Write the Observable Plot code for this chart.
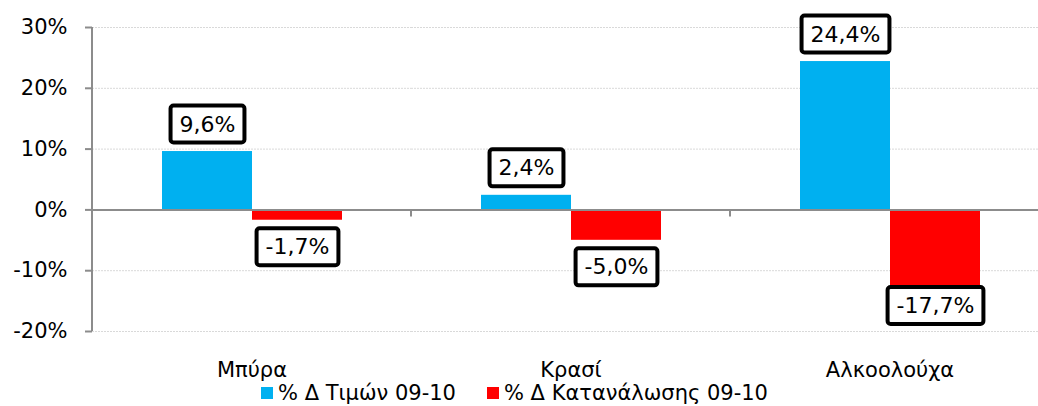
<!DOCTYPE html>
<html>
<head>
<meta charset="utf-8">
<script src="https://cdn.jsdelivr.net/npm/d3@7"></script>
<script src="https://cdn.jsdelivr.net/npm/@observablehq/plot@0.6"></script>
<style>
  html, body { margin: 0; padding: 0; background: #fff; overflow: hidden; }
  body { font-family: "DejaVu Sans", sans-serif; width: 1038px; height: 406px; }
  #chart svg { display: block; }
  #legend { display: flex; align-items: center; margin-left: 261px; height: 14px; font-size: 21px; line-height: 14px; color: #000; }
  .item { display: flex; align-items: center; margin-right: 31px; }
  .sw { width: 12px; height: 12px; margin-right: 5px; }
</style>
</head>
<body>
<div id="chart"></div>
<div id="legend"></div>
<script>
const categories = ["Μπύρα", "Κρασί", "Αλκοολούχα"];
const seriesNames = ["% Δ Τιμών 09-10", "% Δ Κατανάλωσης 09-10"];
const priceChange = [9.6, 2.4, 24.4];
const consumptionChange = [-1.7, -5.0, -17.7];
const yTicks = [-20, -10, 0, 10, 20, 30];
const colors = ["#00B0F0", "#FF0000"];

const data = [];
categories.forEach((c, i) => {
  data.push({cat: c, series: seriesNames[0], value: priceChange[i]});
  data.push({cat: c, series: seriesNames[1], value: consumptionChange[i]});
});
const fmt = v => v.toFixed(1).replace(".", ",") + "%";

const plot = Plot.plot({
  width: 1038,
  height: 386,
  marginLeft: 92,
  marginRight: -11,
  marginTop: 27,
  marginBottom: 55,
  style: {fontFamily: "DejaVu Sans, sans-serif", color: "#000", background: "#fff"},
  fx: {domain: categories, padding: 0, label: null},
  x: {domain: seriesNames, paddingInner: 0, paddingOuter: 0.753, axis: null},
  y: {domain: [-20, 30], label: null},
  color: {domain: seriesNames, range: colors},
  marks: [
    Plot.gridY(yTicks, {stroke: "#d9d9d9", strokeOpacity: 1, strokeDasharray: "2,1"}),
    Plot.barY(data, {fx: "cat", x: "series", y: "value", fill: "series", inset: 0}),
    Plot.ruleY([0], {stroke: "#8c8c8c", strokeWidth: 2}),
    Plot.axisY(yTicks, {tickFormat: d => d + "%", tickSize: 7, tickPadding: 18, fontSize: 21, stroke: "#8c8c8c", strokeWidth: 2}),
    Plot.axisFx({anchor: "bottom", tickSize: 0, tickPadding: 31, fontSize: 21, label: null}),
    Plot.text(data.filter(d => d.series === seriesNames[0]), {fx: "cat", x: "series", y: "value", text: d => fmt(d.value), dy: -27, fontSize: 22, lineAnchor: "middle", fill: "#000", className: "vlabel"}),
    Plot.text(data.filter(d => d.series === seriesNames[1]), {fx: "cat", x: "series", y: "value", text: d => fmt(d.value), dy: 27, fontSize: 22, lineAnchor: "middle", fill: "#000", className: "vlabel"})
  ]
});
document.getElementById("chart").appendChild(plot);

// axis line and category boundary ticks using the plot's own scales
const ys = plot.scale("y"), fxs = plot.scale("fx");
const svg = d3.select(plot);
const x0 = fxs.apply(categories[0]);
svg.append("line").attr("x1", x0).attr("x2", x0)
  .attr("y1", ys.apply(30)).attr("y2", ys.apply(-20))
  .attr("stroke", "#8c8c8c").attr("stroke-width", 2);
categories.slice(1).forEach(c => {
  const xc = fxs.apply(c);
  svg.append("line").attr("x1", xc).attr("x2", xc)
    .attr("y1", ys.apply(0)).attr("y2", ys.apply(0) + 7)
    .attr("stroke", "#8c8c8c").attr("stroke-width", 2);
});

// boxes behind value labels, kept inside the plot area like the original
const bottomLimit = ys.apply(-20) - 5;
const svgTop = plot.getBoundingClientRect().top;
plot.querySelectorAll("g.vlabel text").forEach(t => {
  const bb = t.getBBox();
  const cy = bb.y + bb.height / 2;
  const cr = t.getBoundingClientRect();
  const screenCy = cr.top + cr.height / 2 - svgTop;
  const shift = Math.max(0, screenCy + 20.5 - bottomLimit);
  const tr = t.getAttribute("transform") || "";
  const newTr = `translate(0,${-shift}) ${tr}`;
  const r = document.createElementNS("http://www.w3.org/2000/svg", "rect");
  r.setAttribute("x", bb.x - 9);
  r.setAttribute("width", bb.width + 18);
  r.setAttribute("y", cy - 18.5);
  r.setAttribute("height", 37);
  r.setAttribute("rx", 3);
  r.setAttribute("fill", "#fff");
  r.setAttribute("stroke", "#000");
  r.setAttribute("stroke-width", 4);
  r.setAttribute("transform", newTr);
  t.setAttribute("transform", newTr);
  t.parentNode.insertBefore(r, t);
});

// legend
const lg = document.getElementById("legend");
seriesNames.forEach((s, i) => {
  const it = document.createElement("div");
  it.className = "item";
  const sw = document.createElement("div");
  sw.className = "sw";
  sw.style.background = colors[i];
  const tx = document.createElement("span");
  tx.textContent = s;
  it.appendChild(sw); it.appendChild(tx);
  lg.appendChild(it);
});
</script>
</body>
</html>
